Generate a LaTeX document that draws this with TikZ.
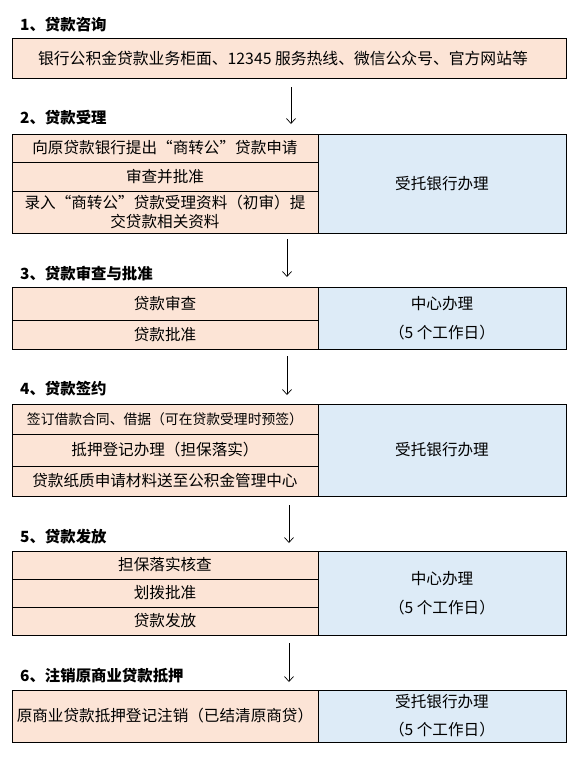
\documentclass[tikz,border=0pt]{standalone}
\usepackage{fontspec}
\setmainfont{Noto Sans CJK SC}
\usetikzlibrary{arrows.meta}
\definecolor{peach}{HTML}{FCE4D6}
\definecolor{lblue}{HTML}{DDEBF7}
\begin{document}
\begin{tikzpicture}[x=1pt,y=-1pt,
  cell/.style={draw=black, line width=0.8pt, inner sep=0pt, align=center, font=\fontsize{15.6}{19}\selectfont},
  lcell/.style={cell, fill=peach, minimum width=306pt},
  rcell/.style={cell, fill=lblue, minimum width=248pt},
  twoline/.style={font=\fontsize{15.6}{29}\selectfont},
  head/.style={anchor=west, font=\fontsize{15.4}{19}\selectfont\bfseries, inner sep=0pt},
  flow/.style={line width=0.7pt, -{Straight Barb[length=5pt,width=9pt]}}
]
\fill[white] (0,0) rectangle (584,761);
\useasboundingbox (0,0) rectangle (584,761);

% headings
\node[head] (h1) at (20,25) {1、贷款咨询};
\node[head] (h2) at (20,118) {2、贷款受理};
\node[head] (h3) at (20,274) {3、贷款审查与批准};
\node[head] (h4) at (20,389) {4、贷款签约};
\node[head] (h5) at (20,537) {5、贷款发放};
\node[head] (h6) at (20,676) {6、注销原商业贷款抵押};

% box 1
\node[cell, fill=peach, minimum width=554pt, minimum height=40pt] (b1) at (289,58) {};
\node[font=\fontsize{15.8}{19}\selectfont, inner sep=0pt] (b1t) at (283,58)
  {银行公积金贷款业务柜面、12345 服务热线、微信公众号、官方网站等};

% box 2
\node[lcell, minimum height=28pt] (b2a) at (165,148) {向原贷款银行提出“商转公”贷款申请};
\node[lcell, minimum height=29pt] (b2b) at (165,176.5) {审查并批准};
\node[lcell, minimum height=42pt] (b2c) at (165,212) {录入“商转公”贷款受理资料（初审）提\\交贷款相关资料};
\node[rcell, minimum height=99pt] (b2r) at (442,183.5) {受托银行办理};

% box 3
\node[lcell, minimum height=33pt] (b3a) at (165,303.5) {贷款审查};
\node[lcell, minimum height=29pt] (b3b) at (165,334.5) {贷款批准};
\node[rcell, twoline, minimum height=62pt] (b3r) at (442,318) {中心办理\\（5 个工作日）};

% box 4
\node[lcell, minimum height=30pt, font=\fontsize{13.8}{17}\selectfont] (b4a) at (165,419) {签订借款合同、借据（可在贷款受理时预签）};
\node[lcell, minimum height=32pt] (b4b) at (165,450) {抵押登记办理（担保落实）};
\node[lcell, minimum height=30pt] (b4c) at (165,481) {贷款纸质申请材料送至公积金管理中心};
\node[rcell, minimum height=92pt] (b4r) at (442,450) {受托银行办理};

% box 5
\node[lcell, minimum height=28pt] (b5a) at (165,565) {担保落实核查};
\node[lcell, minimum height=28pt] (b5b) at (165,593) {划拨批准};
\node[lcell, minimum height=28pt] (b5c) at (165,621) {贷款发放};
\node[rcell, twoline, minimum height=84pt] (b5r) at (442,593) {中心办理\\（5 个工作日）};

% box 6
\node[lcell, minimum height=52pt] (b6a) at (165,716) {原商业贷款抵押登记注销（已结清原商贷）};
\node[rcell, minimum height=52pt, font=\fontsize{15.6}{28}\selectfont] (b6r) at (442,716) {受托银行办理\\（5 个工作日）};

% arrows
\coordinate (a1s) at (291,87);  \coordinate (a1e) at (291,124);
\coordinate (a2s) at (287,239); \coordinate (a2e) at (287,277);
\coordinate (a3s) at (287,356); \coordinate (a3e) at (287,395);
\coordinate (a4s) at (289,505); \coordinate (a4e) at (289,543);
\coordinate (a5s) at (289,643); \coordinate (a5e) at (289,682);
\draw[flow] (a1s) -- (a1e);
\draw[flow] (a2s) -- (a2e);
\draw[flow] (a3s) -- (a3e);
\draw[flow] (a4s) -- (a4e);
\draw[flow] (a5s) -- (a5e);
\end{tikzpicture}
\end{document}
